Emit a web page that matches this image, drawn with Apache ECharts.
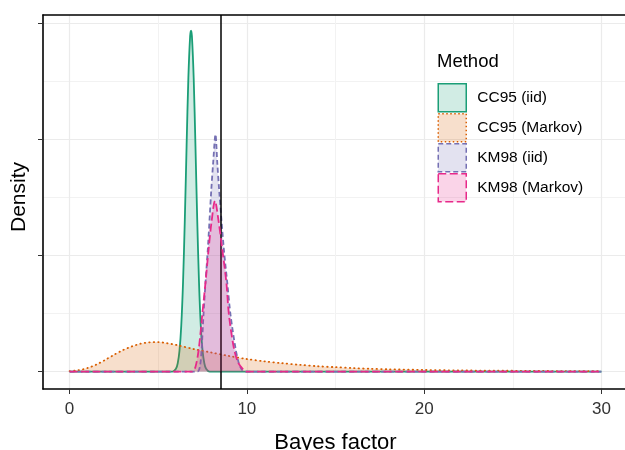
<!DOCTYPE html>
<html>
<head>
<meta charset="utf-8">
<script src="https://cdn.jsdelivr.net/npm/echarts@6/dist/echarts.min.js"></script>
<style>html,body{margin:0;padding:0;background:#fff;overflow:hidden}#c{width:625px;height:450px}</style>
</head>
<body>
<div id="c"></div>
<script>
// ---- data (x = Bayes factor, y = density) ----
const methods = ['CC95 (iid)', 'CC95 (Markov)', 'KM98 (iid)', 'KM98 (Markov)'];
const xTicks = [0, 10, 20, 30];
const xMinorTicks = [5, 15, 25];
const yTicks = [0, 0.5, 1, 1.5];
const yMinorTicks = [0.25, 0.75, 1.25];
const bfThreshold = 8.52;

const cc95Iid = [[0,0],[5.8,0],[6.0,0.012],[6.1,0.036],[6.2,0.09],[6.3,0.199],[6.4,0.385],[6.5,0.653],[6.6,0.971],[6.7,1.265],[6.8,1.444],[6.85,1.468],[6.9,1.444],[7.0,1.265],[7.1,0.971],[7.2,0.653],[7.3,0.385],[7.4,0.199],[7.5,0.09],[7.6,0.036],[7.7,0.012],[7.9,0],[30,0]];
const cc95Markov = [[0,0.002],[0.5,0.006],[1.0,0.015],[1.5,0.03],[2.0,0.05],[2.5,0.072],[3.0,0.092],[3.5,0.108],[4.0,0.12],[4.5,0.126],[5.0,0.127],[5.5,0.122],[6.0,0.115],[7.0,0.097],[8.0,0.082],[9.0,0.067],[10.0,0.054],[11.0,0.044],[12.0,0.036],[13.0,0.029],[14.0,0.023],[15.0,0.019],[16.0,0.015],[17.0,0.012],[18.0,0.01],[20.0,0.007],[22.0,0.005],[24.0,0.004],[26.0,0.003],[28.0,0.002],[30.0,0.002]];
const km98Iid = [[0,0],[7.2,0],[7.35,0.02],[7.45,0.1],[7.55,0.24],[7.67,0.386],[7.8,0.53],[7.99,0.778],[8.1,0.9],[8.23,1.021],[8.33,0.9],[8.44,0.778],[8.7,0.528],[8.89,0.386],[9.08,0.243],[9.36,0.1],[9.55,0.035],[9.7,0.01],[9.85,0],[30,0]];
const km98Markov = [[0,0],[6.9,0],[7.1,0.02],[7.29,0.1],[7.48,0.243],[7.67,0.386],[7.84,0.525],[8.0,0.64],[8.2,0.735],[8.4,0.65],[8.61,0.528],[8.84,0.386],[8.99,0.243],[9.27,0.1],[9.5,0.04],[9.74,0.014],[9.95,0],[30,0]];

// ---- styles ----
const lineColors = ['#1B9E77', '#D95F02', '#7570B3', '#E7298A'];
const fillColors = ['rgba(27,158,119,0.2)', 'rgba(217,95,2,0.2)', 'rgba(117,112,179,0.2)', 'rgba(231,41,138,0.2)'];
const dashes = ['solid', [0.5, 4], [5, 3], [8, 3.5]];
const caps = ['butt', 'round', 'butt', 'butt'];
const seriesData = [cc95Iid, cc95Markov, km98Iid, km98Markov];

const chart = echarts.init(document.getElementById('c'), null, {renderer: 'canvas'});
const FONT = 'Liberation Sans, Arial, sans-serif';
const X_MIN = -1.5, X_MAX = 31.5, Y_MIN = -0.075, Y_MAX = 1.535;

const series = methods.map((name, i) => {
  const s = {
    name: name,
    type: 'line',
    data: seriesData[i],
    smooth: 0.3,
    symbol: 'none',
    xAxisIndex: 0,
    yAxisIndex: 0,
    lineStyle: {color: lineColors[i], width: 1.8, type: dashes[i], cap: caps[i]},
    itemStyle: {color: lineColors[i]},
    areaStyle: {color: fillColors[i], opacity: 1},
    z: 2 + i
  };
  if (i === methods.length - 1) {
    s.markLine = {
      silent: true,
      symbol: 'none',
      label: {show: false},
      lineStyle: {color: '#000', width: 1.5, type: 'solid'},
      data: [{xAxis: bfThreshold}]
    };
  }
  return s;
});

chart.setOption({
  animation: false,
  backgroundColor: '#fff',
  textStyle: {fontFamily: FONT},
  title: {
    text: 'Method',
    left: 437, top: 52, padding: 0,
    textStyle: {fontFamily: FONT, fontSize: 18.5, fontWeight: 'normal', color: '#000'}
  },
  legend: {
    orient: 'vertical',
    left: 437.5, top: 83, padding: 0,
    itemWidth: 28, itemHeight: 28, itemGap: 0.5,
    icon: 'rect',
    textStyle: {fontFamily: FONT, fontSize: 15.5, color: '#000', padding: [0, 0, 0, 6]},
    data: methods.map((name, i) => ({
      name: name,
      icon: 'rect',
      itemStyle: {color: fillColors[i], borderColor: lineColors[i], borderWidth: 1.5, borderType: dashes[i] === 'solid' ? 'solid' : (i === 1 ? [1.5, 2.5] : dashes[i])}
    })),
    selectedMode: false
  },
  grid: {
    left: 43, top: 15, width: 585, height: 374,
    outerBoundsMode: 'none',
    containLabel: false,
    show: false
  },
  xAxis: [{
    type: 'value', min: X_MIN, max: X_MAX, position: 'bottom',
    name: 'Bayes factor', nameLocation: 'middle', nameGap: 43,
    nameTextStyle: {fontFamily: FONT, fontSize: 22, color: '#000'},
    axisLine: {show: true, onZero: false, lineStyle: {color: '#000', width: 1.6}},
    axisTick: {show: true, length: 5, customValues: xTicks, lineStyle: {color: '#333'}},
    axisLabel: {customValues: xTicks, margin: 12, fontFamily: FONT, fontSize: 17, color: '#333'},
    splitLine: {show: true, lineStyle: {color: '#EBEBEB', width: 1.2}}
  }, {
    type: 'value', min: X_MIN, max: X_MAX, position: 'top',
    axisLine: {show: true, onZero: false, lineStyle: {color: '#000', width: 1.6}},
    axisLabel: {show: false, customValues: xMinorTicks},
    axisTick: {show: false, customValues: xMinorTicks},
    splitLine: {show: true, lineStyle: {color: '#F2F2F2', width: 1}}
  }],
  yAxis: [{
    type: 'value', min: Y_MIN, max: Y_MAX, position: 'left',
    name: 'Density', nameLocation: 'middle', nameGap: 13, nameRotate: 90,
    nameTextStyle: {fontFamily: FONT, fontSize: 21, color: '#000', padding: [0, 0, 0, 10]},
    axisLine: {show: true, onZero: false, lineStyle: {color: '#000', width: 1.6}},
    axisTick: {show: true, length: 5, customValues: yTicks, lineStyle: {color: '#333'}},
    axisLabel: {show: false, customValues: yTicks},
    splitLine: {show: true, lineStyle: {color: '#EBEBEB', width: 1.2}}
  }, {
    type: 'value', min: Y_MIN, max: Y_MAX, position: 'right',
    axisLine: {show: false}, axisLabel: {show: false, customValues: yMinorTicks},
    axisTick: {show: false, customValues: yMinorTicks},
    splitLine: {show: true, lineStyle: {color: '#F2F2F2', width: 1}}
  }],
  series: series
});
</script>
</body>
</html>
